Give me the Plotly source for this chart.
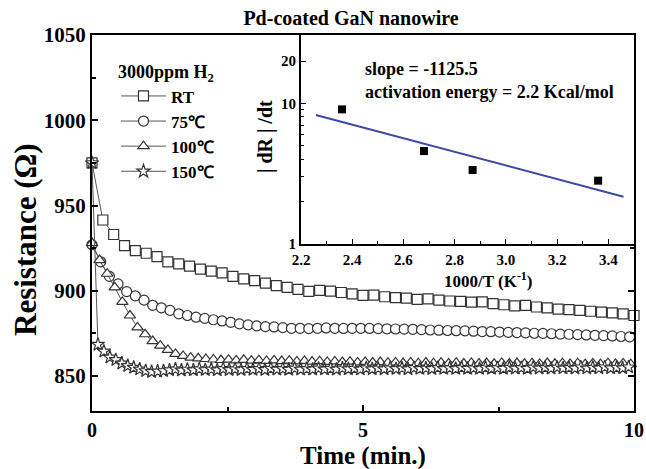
import numpy as np
import plotly.graph_objects as go

# ---------------- data ----------------
series_names = ["RT", "75℃", "100℃", "150℃"]

# sampling interval (min) of each recorded series
dt_rt, dt_75, dt_100, dt_150 = 0.2, 0.16, 0.14, 0.11

r_rt = [975, 941.5, 933, 926.5, 923.5, 922, 920, 917, 915.8, 914.5,
        912.7, 911.5, 910.5, 908.5, 907, 906, 904.5, 903, 902, 900.8,
        899.6, 900.2, 899.8, 899, 898.2, 897.3, 897.5, 896.5, 896, 895.7,
        895, 895.3, 894.5, 894, 893.8, 893.3, 893.5, 892.5, 891.8, 891.2,
        891.5, 890.5, 890, 889.3, 889, 888.5, 888, 887.5, 887, 886.5, 885.5]

r_75 = [927, 917, 908.5, 904, 899.5, 897, 894.5, 891.5, 890, 888.5,
        886.5, 885.5, 884.5, 883.8, 883, 882.3, 881.5, 880.6, 880, 879.4,
        879, 878.8, 878.4, 878, 878, 877.8, 878, 878.2, 878, 877.9,
        878, 878, 877.9, 877.8, 877.7, 877.6, 877.5, 877.4, 877.2, 877,
        876.9, 876.7, 876.6, 876.5, 876.3, 876.1, 876, 875.8, 875.6, 875.5,
        875.3, 875.1, 875, 874.8, 874.6, 874.5, 874.3, 874.1, 873.9, 873.7,
        873.5, 873.2, 873]

r_100 = [928, 918, 910, 902, 893.5, 885.5, 878.5, 874.5, 870.5, 867.8,
         865.3, 863, 861.8, 860.8, 860.4, 860, 859.7, 859.4, 859.6, 859.2,
         859.5, 859, 859.3, 858.9, 859.2, 858.8, 859, 858.6, 858.9, 858.5,
         858.7, 858.3, 858.6, 858.2, 858.4, 858, 858.3, 857.9, 858.2, 857.8,
         858, 857.6, 858, 857.5, 857.9, 857.5, 857.8, 857.4, 857.8, 857.3,
         857.7, 857.3, 857.6, 857.2, 857.7, 857.3, 857.6, 857.2, 857.5, 857.1,
         857.6, 857.2, 857.5, 857.1, 857.5, 857, 857.4, 857, 857.5, 857.1,
         857.4, 857]

r_150 = [975, 868.5, 864.5, 861, 859.5, 857.5, 856, 855, 854, 853, 852.5, 852.8, 853,
         853.5, 854, 853.4, 853.9, 853.5, 854.1, 853.6, 854, 853.5, 854.2, 853.7, 854.1,
         853.6, 854.3, 853.8, 854.2, 853.7, 854.4, 853.9, 854.2, 853.8, 854.5, 853.9, 854.3,
         853.9, 854.5, 854, 854.4, 853.9, 854.6, 854.1, 854.4, 854, 854.7, 854.1, 854.5,
         854.1, 854.7, 854.2, 854.6, 854.1, 854.8, 854.3, 854.6, 854.2, 854.9, 854.3, 854.7,
         854.3, 854.9, 854.4, 854.7, 854.3, 855, 854.4, 854.8, 854.4, 855, 854.5, 854.8,
         854.4, 855.1, 854.5, 854.9, 854.5, 855.1, 854.6, 854.9, 854.5, 855.2, 854.6, 855,
         854.6, 855.2, 854.7, 855, 854.7, 855.2]

# inset: rate of change vs inverse temperature
inv_T = [2.36, 2.68, 2.87, 3.36]          # 1000/T (K^-1)
rate = [9.06, 4.58, 3.36, 2.82]            # |dR|/dt
fit_x = [2.258, 3.459]                     # fitted line end points
fit_y = [8.26, 2.17]

main_ticks = [850, 900, 950, 1000, 1050]
time_ticks = [0, 5, 10]
inset_xticks = [2.2, 2.4, 2.6, 2.8, 3.0, 3.2, 3.4]
inset_xlabels = ["2.2", "2.4", "2.6", "2.8", "3.0", "3.2", "3.4"]
inset_yticks = [1, 10, 20]

# ---------------- figure ----------------
FONT = "Liberation Serif"
ser = [(r_rt, dt_rt, "square"), (r_75, dt_75, "circle"),
       (r_100, dt_100, "triangle-up"), (r_150, dt_150, "star")]

fig = go.Figure()
for name, (vals, dt, sym) in zip(series_names, ser):
    t = np.round(np.arange(len(vals)) * dt, 3)
    fig.add_trace(go.Scatter(
        x=t, y=vals, name=name, mode="lines+markers",
        line=dict(color="#555555", width=1),
        marker=dict(symbol=sym, size=10,
                    color="white", line=dict(color="#333333", width=1.2)),
        cliponaxis=False,
    ))

fig.add_trace(go.Scatter(x=fit_x, y=fit_y, mode="lines", showlegend=False,
                         line=dict(color="#3a4aa6", width=2),
                         xaxis="x2", yaxis="y2"))
fig.add_trace(go.Scatter(x=inv_T, y=rate, mode="markers", showlegend=False,
                         marker=dict(symbol="square", size=8, color="black"),
                         xaxis="x2", yaxis="y2"))

axis_common = dict(showline=True, linecolor="black", linewidth=2,
                   ticks="inside", tickcolor="black", showgrid=False,
                   zeroline=False, automargin=False)

W, H = 646, 469
PL, PT, PW, PH = 92, 35, 542, 376   # plot area in pixels

def px(x):  # pixel x -> paper x
    return (x - PL) / PW

def py(y):  # pixel y -> paper y
    return (PT + PH - y) / PH

fig.update_layout(
    width=W, height=H,
    margin=dict(l=PL, r=W - PL - PW, t=PT, b=H - PT - PH),
    paper_bgcolor="white", plot_bgcolor="white",
    font=dict(family=FONT, color="black"),
    title=dict(text="Pd-coated GaN nanowire", x=351 / W, xanchor="center",
               y=1 - 18 / H, yanchor="middle", yref="container", automargin=False,
               font=dict(size=20, weight="bold", family=FONT)),
    xaxis=dict(**axis_common, domain=[0, 1], range=[0, 10], mirror=True,
               tickvals=time_ticks, ticklen=6, tickwidth=1.5,
               minor=dict(tickvals=[2.5, 7.5], ticklen=4, tickwidth=1.5, ticks="inside"),
               tickfont=dict(size=20, weight="bold"), ticklabelstandoff=0),
    yaxis=dict(**axis_common, domain=[0, 1], range=[829.5, 1050], mirror="ticks",
               tickvals=main_ticks, ticklen=6, tickwidth=1.5,
               minor=dict(dtick=25, ticklen=4, tickwidth=1.5, ticks="inside"),
               tickfont=dict(size=21, weight="bold")),
    xaxis2=dict(**axis_common, domain=[px(301), 1], anchor="y2", range=[2.2, 3.5],
                mirror=True, tickvals=inset_xticks, ticktext=inset_xlabels,
                ticklen=5, tickwidth=1.2,
                minor=dict(dtick=0.1, ticklen=3, tickwidth=1.2, ticks="inside"),
                tickfont=dict(size=15, weight="bold"), ticklabelstandoff=1),
    yaxis2=dict(**axis_common, domain=[py(244), 1], anchor="x2", type="log",
                range=[0, 1.486], mirror=True, tickvals=inset_yticks,
                ticktext=[str(v) for v in inset_yticks], ticklen=5, tickwidth=1.2,
                minor=dict(tickvals=[2, 3, 4, 5, 6, 7, 8, 9], ticklen=3,
                           tickwidth=1.2, ticks="inside"),
                tickfont=dict(size=15, weight="bold")),
    legend=dict(x=px(116), y=py(55), xanchor="left", yanchor="top",
                bgcolor="rgba(0,0,0,0)", tracegroupgap=0, itemwidth=45,
                font=dict(size=17, weight="bold", family=FONT),
                title=dict(text="3000ppm H<sub>2</sub>",
                           font=dict(size=18, weight="bold", family=FONT))),
    annotations=[
        dict(text="Time (min.)", xref="paper", yref="paper",
             x=px(363), y=py(456), showarrow=False,
             xanchor="center", yanchor="middle",
             font=dict(size=25, weight="bold")),
        dict(text="Resistance (Ω)", xref="paper", yref="paper",
             x=px(25), y=py(240), textangle=-90, showarrow=False,
             xanchor="center", yanchor="middle",
             font=dict(size=31, weight="bold")),
        dict(text="| dR | /dt", xref="paper", yref="paper",
             x=px(265), y=py(137), textangle=-90, showarrow=False,
             xanchor="center", yanchor="middle",
             font=dict(size=20, weight="bold")),
        dict(text="1000/T (K<sup>-1</sup>)", xref="paper", yref="paper",
             x=px(488), y=py(280), showarrow=False,
             xanchor="center", yanchor="middle",
             font=dict(size=17, weight="bold")),
        dict(text="slope = -1125.5<br>activation energy = 2.2 Kcal/mol",
             xref="paper", yref="paper", x=px(363), y=py(57),
             showarrow=False, xanchor="left", yanchor="top", align="left",
             font=dict(size=18, weight="bold")),
    ],
)

# remove the default 8px page margin so the figure fills the window exactly
fig.write_html("out.html",
               config={"displayModeBar": False},
               post_script="document.body.style.margin='0';"
                           "document.body.style.overflow='hidden';")
